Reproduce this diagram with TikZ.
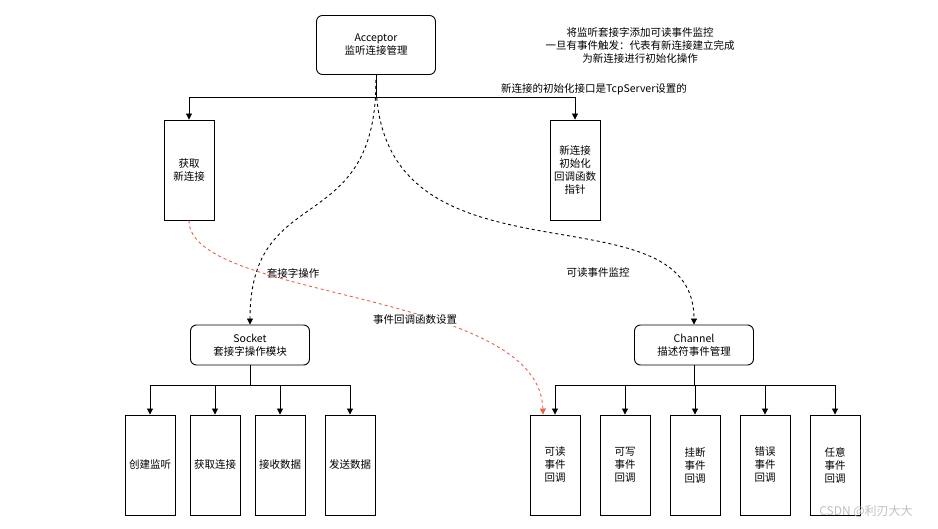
\documentclass[tikz,border=0pt]{standalone}
\usepackage{fontspec}
\setmainfont{Noto Sans CJK SC}
\usetikzlibrary{arrows.meta}
\tikzset{
  rbox/.style={draw,rounded corners=6pt,minimum width=119pt,minimum height=40pt,align=center},
  tbox/.style={draw,minimum width=50pt,minimum height=100pt,align=center},
  arr/.style={-{Triangle[length=6pt,width=6pt]}},
  dsh/.style={dashed,arr},
}
\begin{document}
\begin{tikzpicture}[x=1pt,y=-1pt,line width=0.9pt,font=\fontsize{10.5}{13}\selectfont]
  \useasboundingbox (0,0) rectangle (938,529);
  \node[rbox,minimum height=59pt] (acc) at (376,45) {Acceptor\\监听连接管理};
  \node[tbox] (get) at (189,170) {获取\\新连接};
  \node[tbox] (init) at (575,170) {新连接\\初始化\\回调函数\\指针};
  \node[align=center] (note) at (640,45) {将监听套接字添加可读事件监控\\一旦有事件触发：代表有新连接建立完成\\为新连接进行初始化操作};
  \node[rbox] (sock) at (250,345) {Socket\\套接字操作模块};
  \node[rbox] (chan) at (694,345) {Channel\\描述符事件管理};
  \coordinate (bus) at (376,97);
  \draw (acc.south) -- (bus);
  \draw[arr] (bus) -| (get.north);
  \draw[arr] (bus) -| (init.north);
  \node (lab) at (594,89) {新连接的初始化接口是TcpServer设置的};
  % dashed curves
  \coordinate (top) at (376,80);
  \draw[dsh] (top) .. controls (376,240) and (250,180) .. (sock.north);
  \node (l1) at (293,273) {套接字操作};
  \draw[dsh] (top) .. controls (376,300) and (694,180) .. (chan.north);
  \node (l2) at (598,273) {可读事件监控};
  % socket children
  \foreach \t [count=\i] in {创建监听,获取连接,接收数据,发送数据}{
    \pgfmathsetmacro{\xx}{{150,215,280,350}[\i-1]}
    \node[tbox] (s\i) at (\xx,465) {\t};
    \draw[arr] (250,385) -| (s\i.north);
  }
  \draw (sock.south) -- (250,385);
  % channel children
  \foreach \t [count=\i] in {可读,可写,挂断,错误,任意}{
    \node[tbox] (c\i) at (485+70*\i,465) {\t\\事件\\回调};
    \draw[arr] (694,385) -| (c\i.north);
  }
  \draw (chan.south) -- (694,385);
  \draw[dsh,red!55!brown!80] (get.south) .. controls (189,300) and (540,290) .. ([xshift=-12pt]c1.north);
  \node[fill=white,inner sep=1pt] (l3) at (415,320) {事件回调函数设置};
  \node[text=black!25,font=\fontsize{12}{14}\selectfont] (wm) at (866,512) {CSDN @利刃大大};
\end{tikzpicture}
\end{document}
